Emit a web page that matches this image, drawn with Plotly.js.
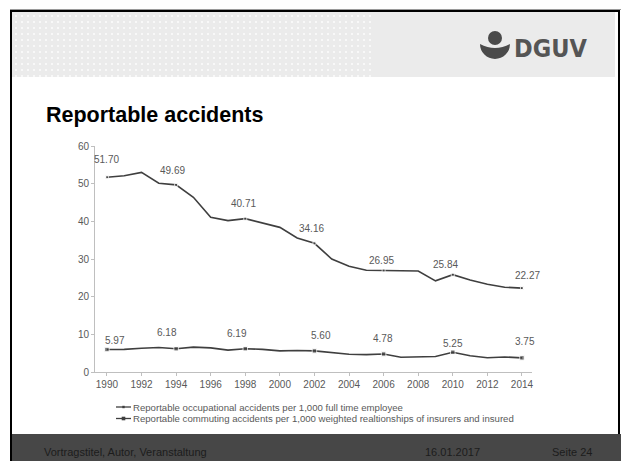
<!DOCTYPE html>
<html>
<head>
<meta charset="utf-8">
<script src="https://cdn.plot.ly/plotly-3.0.1.min.js"></script>
<style>
  html, body { margin: 0; padding: 0; }
  body { width: 621px; height: 461px; position: relative; overflow: hidden; background: #fff;
         font-family: "Liberation Sans", Arial, sans-serif; }
  .abs { position: absolute; }
  #frame { left: 10px; top: 10px; width: 606px; height: 460px; border: 2px solid #000; border-bottom: none; }
  #topline { left: 10px; top: 9px; width: 611px; height: 1px; background: #9a9a9a; }
  #header { left: 12px; top: 12px; width: 603px; height: 65px; background: #ebebeb; }
  #dots { left: 12px; top: 12px; width: 363px; height: 65px;
          background-image: radial-gradient(circle, #f8f8f8 0.8px, rgba(255,255,255,0) 1.3px);
          background-size: 6px 6px; background-position: 1px 1px; }
  #brand { left: 514px; top: 34px; font-family: "DejaVu Sans Condensed", "DejaVu Sans", sans-serif;
           font-weight: bold; font-size: 25px; color: #555; }
  #title { left: 46px; top: 103px; font-weight: bold; font-size: 21.5px; color: #000; }
  #footer { left: 12px; top: 434px; width: 609px; height: 27px; background: #474747; }
  .foot { top: 446px; font-size: 11px; color: #1c1c1c; line-height: 12px; }
  #chart { left: 0; top: 0; width: 621px; height: 461px; }
</style>
</head>
<body>
<div id="frame" class="abs"></div>
<div id="topline" class="abs"></div>
<div id="header" class="abs"></div>
<div id="dots" class="abs"></div>
<svg class="abs" style="left:0;top:0" width="621" height="100">
  <circle cx="495" cy="38" r="7" fill="#4a4a4a"></circle>
  <path d="M 480 44 A 15 15 0 0 0 510 44 Q 495 52 480 44 Z" fill="#4a4a4a"></path>
</svg>
<div id="brand" class="abs">DGUV</div>
<div id="title" class="abs">Reportable accidents</div>
<div id="footer" class="abs"></div>
<div class="abs foot" style="left:44px">Vortragstitel, Autor, Veranstaltung</div>
<div class="abs foot" style="left:425px">16.01.2017</div>
<div class="abs foot" style="left:552px">Seite 24</div>
<div id="chart" class="abs"></div>
<script>
// Years on the horizontal axis
const years = [1990, 1991, 1992, 1993, 1994, 1995, 1996, 1997, 1998, 1999, 2000, 2001, 2002,
               2003, 2004, 2005, 2006, 2007, 2008, 2009, 2010, 2011, 2012, 2013, 2014];

// Reportable occupational accidents per 1,000 full time employee
const occupational = [51.70, 52.1, 53.0, 50.1, 49.69, 46.4, 41.1, 40.2, 40.71, 39.6, 38.4, 35.6, 34.16,
                      30.0, 28.1, 27.0, 26.95, 26.9, 26.8, 24.2, 25.84, 24.4, 23.3, 22.5, 22.27];

// Reportable commuting accidents per 1,000 weighted relationships
const commuting = [5.97, 6.0, 6.3, 6.5, 6.18, 6.6, 6.4, 5.8, 6.19, 6.0, 5.6, 5.7, 5.60,
                   5.1, 4.7, 4.6, 4.78, 3.9, 4.1, 4.1, 5.25, 4.3, 3.8, 4.0, 3.75];

// Years that carry a value label and a marker
const labelledYears = [1990, 1994, 1998, 2002, 2006, 2010, 2014];

const seriesNames = [
  "Reportable occupational accidents per 1,000 full time employee",
  "Reportable commuting accidents per 1,000 weighted realtionships of insurers and insured"
];

// Label offsets in pixels (dx, dy) for each labelled year, per series
const occOffsets = [[0, 18], [-4, 14], [-2, 15], [-3, 15], [-2, 10], [-7, 10], [6, 13]];
const comOffsets = [[8, 9], [-9, 16], [-8, 15], [7, 15], [-1, 16], [0, 9], [3, 16]];

const lineColor = "#3f3f3f";
const textColor = "#595959";
const axisColor = "#bfbfbf";
const font = "Liberation Sans, Arial, sans-serif";

function markerSizes(size) {
  return years.map(y => labelledYears.includes(y) ? size : 0);
}

const traces = [
  {
    x: years, y: occupational, name: seriesNames[0], type: "scatter", mode: "lines+markers",
    line: { color: lineColor, width: 1.6 },
    marker: { symbol: "square", size: markerSizes(3), color: lineColor },
    showlegend: false, hoverinfo: "skip"
  },
  {
    x: years, y: commuting, name: seriesNames[1], type: "scatter", mode: "lines+markers",
    line: { color: lineColor, width: 1.6 },
    marker: { symbol: "square", size: markerSizes(4.5), color: lineColor },
    showlegend: false, hoverinfo: "skip"
  }
];

const annotations = [];
function addLabels(values, offsets) {
  labelledYears.forEach((yr, i) => {
    const idx = years.indexOf(yr);
    annotations.push({
      x: yr, y: values[idx], xref: "x", yref: "y", text: values[idx].toFixed(2),
      showarrow: false, xshift: offsets[i][0], yshift: offsets[i][1],
      font: { family: font, size: 10, color: textColor }
    });
  });
}
addLabels(occupational, occOffsets);
addLabels(commuting, comOffsets);

// Legend drawn as short line samples with the series names beside them
const shapes = [];
seriesNames.forEach((name, i) => {
  const yPx = 407 + i * 11.5;
  const yp = 1 - (yPx - 146) / 226;
  annotations.push({
    x: (131 - 95) / 437, y: yp, xref: "paper", yref: "paper", xanchor: "left", yanchor: "middle",
    text: name, showarrow: false, font: { family: font, size: 9.6, color: textColor }
  });
  shapes.push({
    type: "line", xref: "paper", yref: "paper",
    x0: (116 - 95) / 437, x1: (131 - 95) / 437, y0: yp, y1: yp,
    line: { color: lineColor, width: 1.3 }
  });
  const s = i === 0 ? 1.2 : 1.8;
  shapes.push({
    type: "rect", xref: "paper", yref: "paper",
    x0: (123.5 - s - 95) / 437, x1: (123.5 + s - 95) / 437,
    y0: yp - s / 226, y1: yp + s / 226,
    fillcolor: lineColor, line: { width: 0 }
  });
});

const layout = {
  width: 621, height: 461,
  margin: { l: 95, r: 89, t: 146, b: 89, pad: 0 },
  paper_bgcolor: "rgba(0,0,0,0)", plot_bgcolor: "rgba(0,0,0,0)",
  showlegend: false,
  font: { family: font, size: 10, color: textColor },
  xaxis: {
    range: [1989.31, 2014.58], tick0: 1990, dtick: 2, showgrid: false, zeroline: false,
    showline: true, linecolor: axisColor, linewidth: 1,
    ticks: "outside", ticklen: 3, tickcolor: axisColor,
    tickfont: { family: font, size: 10, color: textColor }
  },
  yaxis: {
    range: [0, 60], dtick: 10, showgrid: false, zeroline: false,
    showline: true, linecolor: axisColor, linewidth: 1,
    ticks: "outside", ticklen: 3, tickcolor: axisColor,
    tickfont: { family: font, size: 10, color: textColor }
  },
  annotations: annotations,
  shapes: shapes
};

Plotly.newPlot("chart", traces, layout, { staticPlot: true, displayModeBar: false });
</script>
</body>
</html>
